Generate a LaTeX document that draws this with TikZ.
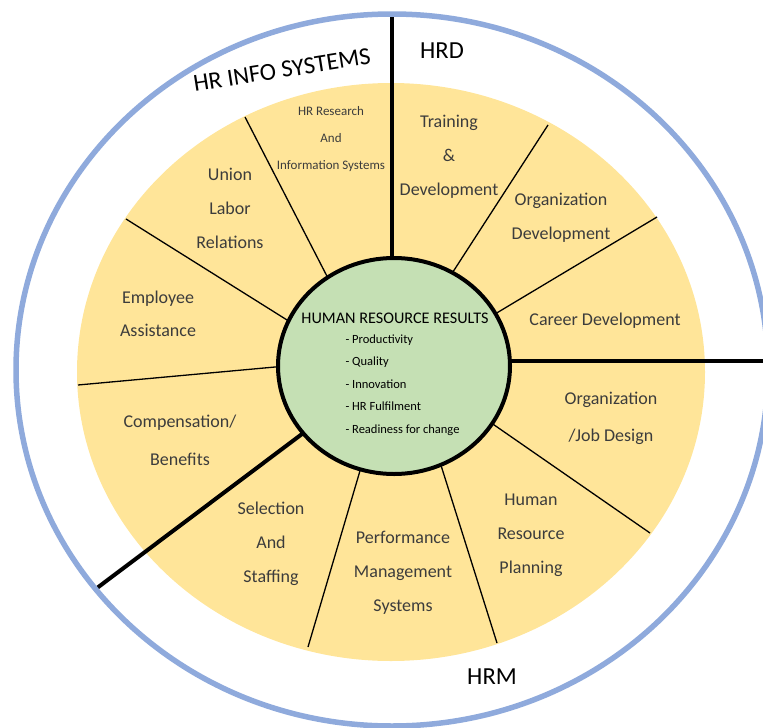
\documentclass[tikz,border=0pt]{standalone}
\usepackage{fontspec}
\setmainfont{Carlito}

\definecolor{rimblue}{RGB}{143,170,220}
\definecolor{wheelyellow}{RGB}{255,229,153}
\definecolor{hubgreen}{RGB}{197,224,180}
\definecolor{labelgray}{RGB}{60,60,60}

\begin{document}
\begin{tikzpicture}[x=1pt,y=-1pt,
  spoke/.style={line width=1.3pt},
  bigspoke/.style={line width=4pt},
  sector/.style={align=center,text=labelgray,font=\fontsize{18}{34}\selectfont},
  area/.style={font=\fontsize{24.5}{28}\selectfont}]

\useasboundingbox (0,0) rectangle (763,728);

% wheel
\fill[wheelyellow] (391,372) ellipse [x radius=314pt, y radius=289pt];

\draw[spoke] (245,117) -- (331,284);
\draw[spoke] (126,219) -- (295,325);
\draw[spoke] (78,385) -- (286,366);
\draw[spoke] (308,647) -- (362,464);
\draw[spoke] (497,643) -- (439,459);
\draw[spoke] (650,533) -- (487,420);
\draw[spoke] (657,217) -- (490,317);
\draw[spoke] (548,125) -- (449,278);

\draw[bigspoke] (392,14) -- (392,266);
\draw[bigspoke] (768,361) -- (502,361);
\draw[bigspoke] (97,588) -- (310,428);

\filldraw[fill=hubgreen,draw=black,line width=4pt] (394,366) ellipse [x radius=116pt, y radius=108pt];
\draw[rimblue,line width=5.5pt] (392,370) ellipse [x radius=376pt, y radius=356pt];

% outer areas
\node[area,rotate=9] (info) at (282,70) {HR INFO SYSTEMS};
\node[area] (hrd) at (442,51) {HRD};
\node[area] (hrm) at (492,677) {HRM};

% sectors
\node[sector,font=\fontsize{13}{27}\selectfont] (research) at (331,139) {HR Research\\And\\Information Systems};
\node[sector] (training) at (449,157) {Training\\\&\\Development};
\node[sector] (orgdev) at (561,218) {Organization\\Development};
\node[sector] (career) at (605,321) {Career Development};
\node[sector,font=\fontsize{18}{37}\selectfont] (jobdesign) at (611,418) {Organization\\/Job Design};
\node[sector] (planning) at (531,535) {Human\\Resource\\Planning};
\node[sector] (performance) at (403,573) {Performance\\Management\\Systems};
\node[sector] (staffing) at (271,544) {Selection\\And\\Staffing};
\node[sector,font=\fontsize{18}{38}\selectfont] (benefits) at (180,440) {Compensation/\\Benefits};
\node[sector,font=\fontsize{18}{33}\selectfont] (assist) at (158,314) {Employee\\Assistance};
\node[sector] (union) at (230,208) {Union\\Labor\\Relations};

% hub
\node[font=\fontsize{16.2}{18}\selectfont] (results) at (395,318) {HUMAN RESOURCE RESULTS};
\node[anchor=west,align=left,font=\fontsize{12.5}{22.5}\selectfont] (list) at (342,385)
  {- Productivity\\- Quality\\- Innovation\\- HR Fulfilment\\- Readiness for change};

\end{tikzpicture}
\end{document}
